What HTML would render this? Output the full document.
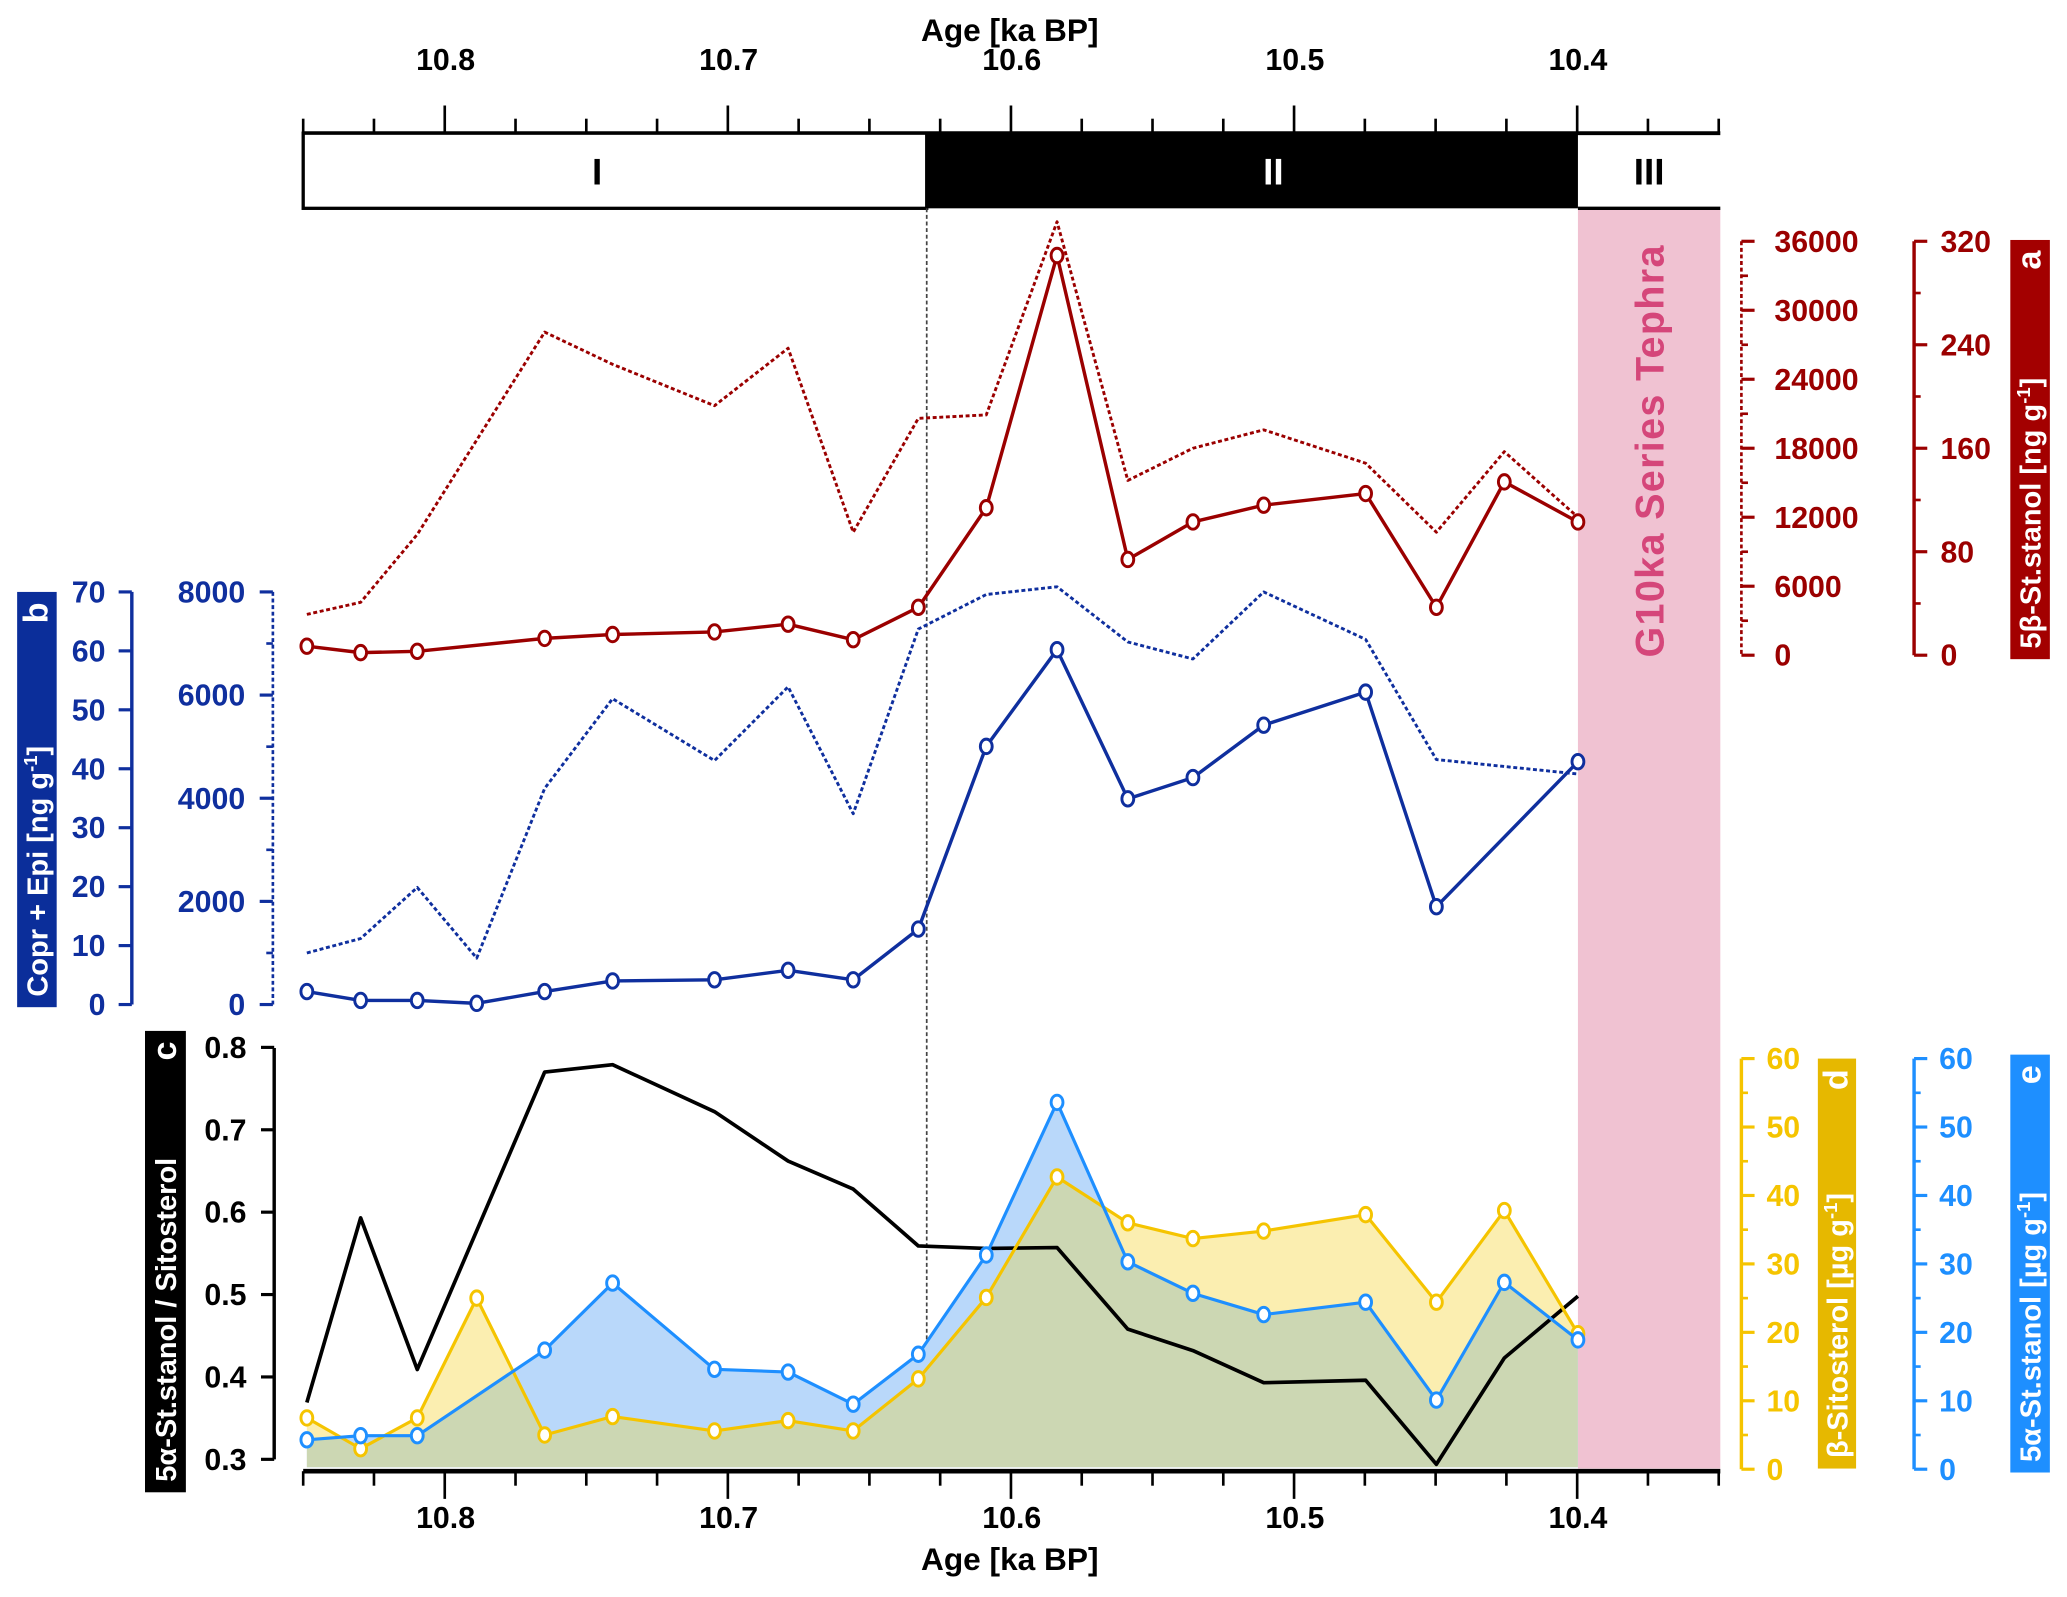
<!DOCTYPE html>
<html><head><meta charset="utf-8"><style>
html,body{margin:0;padding:0;background:#fff}
svg{display:block;font-family:"Liberation Sans",Arial,sans-serif;font-weight:bold}
</style></head><body>
<svg id="c" width="2067" height="1597" viewBox="0 0 1568 1211.4" xmlns="http://www.w3.org/2000/svg"></svg>
<script>
const ages=[10.849,10.830,10.810,10.789,10.765,10.741,10.705,10.679,10.656,10.633,10.609,10.584,10.559,10.536,10.511,10.475,10.450,10.426,10.400];
const betaStanol=[7,2,3,null,13,16,18,24,12,37,114,309,74,103,116,125,37,134,103];
const betaStanolDash=[3550,4600,10500,null,28100,25300,21700,26700,10700,20600,20900,37700,15200,18000,19600,16700,10700,17700,12000];
const coprEpi=[2.2,0.7,0.7,0.2,2.2,4,4.2,5.8,4.2,12.8,43.8,60.2,34.9,38.5,47.4,53,16.6,null,41.2];
const coprEpiDash=[1000,1280,2270,900,4190,5930,4730,6160,3700,7280,7950,8100,7030,6700,8000,7080,4750,null,4470];
const ratio=[0.369,0.593,0.409,null,0.770,0.779,0.722,0.662,0.628,0.559,0.556,0.557,0.458,0.432,0.393,0.396,0.294,0.423,0.498];
const sitosterol=[7.5,3.0,7.5,25.0,5.0,7.7,5.6,7.1,5.6,13.2,25.1,42.7,36.0,33.7,34.8,37.2,24.4,37.8,19.8];
const alphaStanol=[4.3,4.9,4.9,null,17.4,27.2,14.6,14.2,9.5,16.8,31.3,53.6,30.3,25.7,22.6,24.4,10.1,27.3,18.9];
const ageTicks=[10.8,10.7,10.6,10.5,10.4];
const NS="http://www.w3.org/2000/svg";
const svg=document.getElementById('c');
function el(t,a,p){const e=document.createElementNS(NS,t);for(const k in a)e.setAttribute(k,a[k]);(p||svg).appendChild(e);return e;}
function tx(s,x,y,a,p){const e=el('text',Object.assign({x:x,y:y},a),p);e.textContent=s;return e;}
const X=a=>1197+(10.4-a)*2147.5;
const Ya=v=>497-v*314/320, YaD=v=>497-v*314/36000;
const Yb=v=>762-v*313/70, YbD=v=>762-v*313/8000;
const Yc=v=>1107-(v-0.3)*625;
const Yd=v=>1114.5-v*311.5/60;
const RED="#9b0000",BLUE="#0f2f9e",GOLD="#f5c400",LB="#1e8fff";

let e=el('rect',{x:1197,y:158,width:108,height:956,fill:"#f0c2d2"});

e=tx('G10ka Series Tephra',0,0,{transform:'translate(1262,342) rotate(-90)','text-anchor':'middle','font-size':30,'letter-spacing':1,fill:'#d5467a'});


e=el('g',{});
const gt=e;
el('line',{x1:230,y1:101,x2:1305,y2:101,stroke:'#000','stroke-width':3},gt);
for(let i=0;i<=20;i++){const x=230+i*53.69;el('line',{x1:x,y1:101,x2:x,y2:(i%4==2)?80:90,stroke:'#000','stroke-width':2},gt);}
ageTicks.forEach(a=>tx(a.toFixed(1),X(a),53,{'text-anchor':'middle','font-size':23},gt));
tx('Age [ka BP]',766,31,{'text-anchor':'middle','font-size':24},gt);
e=el('rect',{x:230,y:101,width:473,height:57,fill:'#fff',stroke:'#000','stroke-width':2.5});
e=el('rect',{x:703,y:101,width:494,height:57,fill:'#000'});
el('line',{x1:1197,y1:158,x2:1305,y2:158,stroke:'#000','stroke-width':2.5});
tx('I',453,140,{'text-anchor':'middle','font-size':28});
tx('II',966,140,{'text-anchor':'middle','font-size':28,fill:'#fff'});
tx('III',1251,140,{'text-anchor':'middle','font-size':28});
e=el('line',{x1:703,y1:158,x2:703,y2:1112,stroke:'#444','stroke-width':1.3,'stroke-dasharray':'3,2'});


function pts(arr,fy){const p=[];arr.forEach((v,i)=>{if(v!=null)p.push([X(ages[i]),fy(v)]);});return p;}
function area(p){return 'M'+p[0][0]+',1113 '+p.map(q=>'L'+q[0]+','+q[1]).join(' ')+' L'+p[p.length-1][0]+',1113 Z';}
const py=pts(sitosterol,Yd), pb=pts(alphaStanol,Yd);
el('clipPath',{id:'cy'});el('path',{d:area(py)},svg.lastChild);
e=el('path',{d:area(py),fill:'#fbeeb0'});
e=el('path',{d:area(pb),fill:'#b9d8fa'});
e=el('path',{d:area(pb),fill:'#ccd7b3','clip-path':'url(#cy)'});

function line(arr,fy,col,w,dash,mk,name){
  const p=pts(arr,fy);const g=el('g',{});
  
  const a={points:p.map(q=>q.join(',')).join(' '),fill:'none',stroke:col,'stroke-width':w,'stroke-linejoin':'round'};
  if(dash)a['stroke-dasharray']=dash;
  el('polyline',a,g);
  if(mk)p.forEach(q=>{const c=el('ellipse',{cx:q[0],cy:q[1],rx:4.5,ry:5.5,fill:'#fff',stroke:col,'stroke-width':2.2},g);
    });
}
line(betaStanolDash,YaD,RED,2.2,'3,2',false,'beta-stanol-dashed-line');
line(betaStanol,Ya,RED,2.6,null,true,'beta-stanol-line');
line(coprEpiDash,YbD,BLUE,2.2,'3,2',false,'copr-epi-dashed-line');
line(coprEpi,Yb,BLUE,2.6,null,true,'copr-epi-line');
line(ratio,Yc,'#000',2.8,null,false,'ratio-line');
line(sitosterol,Yd,GOLD,2.4,null,true,'sitosterol-line');
line(alphaStanol,Yd,LB,2.4,null,true,'alpha-stanol-line');

function vaxis(x,y0,y1,vals,fy,col,dir,lx,anchor,dash,minor,name,fmt){
  const g=el('g',{});
  const a={x1:x,y1:y0,x2:x,y2:y1,stroke:col,'stroke-width':dash?2:2.6};if(dash)a['stroke-dasharray']='3,2';
  el('line',a,g);
  vals.forEach(v=>{const y=fy(v);el('line',{x1:x,y1:y,x2:x+dir*10,y2:y,stroke:col,'stroke-width':2.4},g);
    tx(fmt?fmt(v):String(v),lx,y+8,{'text-anchor':anchor,'font-size':23,fill:col},g);});
  (minor||[]).forEach(v=>{const y=fy(v);el('line',{x1:x,y1:y,x2:x+dir*5,y2:y,stroke:col,'stroke-width':2},g);});
}
const r=(a,b,s)=>{const o=[];for(let v=a;v<=b+1e-9;v+=s)o.push(+v.toFixed(3));return o;};
vaxis(1321,183,497,r(0,36000,6000),YaD,RED,1,1346,'start',true,r(3000,33000,6000),'beta-stanol-dashed-axis');
vaxis(1452,183,497,r(0,320,80),Ya,RED,1,1472,'start',false,r(40,280,80),'beta-stanol-axis');
vaxis(100,449,762,r(0,70,10),Yb,BLUE,-1,80,'end',false,null,'copr-epi-axis');
vaxis(207,449,762,r(0,8000,2000),YbD,BLUE,-1,186,'end',true,r(1000,7000,2000),'copr-epi-dashed-axis');
vaxis(208,795,1107,r(0.3,0.8,0.1),Yc,'#000',-1,187,'end',false,null,'ratio-axis',v=>v.toFixed(1));
vaxis(1321,803,1114.5,r(0,60,10),Yd,GOLD,1,1340,'start',false,r(5,55,10),'sitosterol-axis');
vaxis(1452,803,1114.5,r(0,60,10),Yd,LB,1,1471,'start',false,r(5,55,10),'alpha-stanol-axis');

const gb=el('g',{});
el('line',{x1:230,y1:1116,x2:1305,y2:1116,stroke:'#000','stroke-width':3.5},gb);
for(let i=0;i<=20;i++){const x=230+i*53.69;el('line',{x1:x,y1:1116,x2:x,y2:(i%4==2)?1137:1127,stroke:'#000','stroke-width':2},gb);}
ageTicks.forEach(a=>tx(a.toFixed(1),X(a),1159,{'text-anchor':'middle','font-size':23},gb));
tx('Age [ka BP]',766,1191,{'text-anchor':'middle','font-size':24},gb);

function box(x,y,w,h,bg,fg,letter,label,name){
  const g=el('g',{});
  el('rect',{x:x,y:y,width:w,height:h,fill:bg},g);
  const cx=x+w/2+8;
  const t=el('text',{transform:`translate(${cx},${y+h-8}) rotate(-90)`,'font-size':22,fill:fg},g);
  t.innerHTML=label;
  tx(letter,0,0,{transform:`translate(${cx},${y+8}) rotate(-90)`,'text-anchor':'end','font-size':26,fill:fg},g);
}
box(1525,182,30,318,'#a30000','#fff','a','5β-St.stanol  [ng g<tspan font-size="14" dy="-8">-1</tspan><tspan dy="8">]</tspan>','label-a');
box(13,449,30,315,'#0b2e9a','#fff','b','Copr + Epi  [ng g<tspan font-size="14" dy="-8">-1</tspan><tspan dy="8">]</tspan>','label-b');
box(110,782,31,350,'#000','#fff','c','5α-St.stanol / Sitosterol','label-c');
box(1379,803,29,311,'#e6b800','#fff','d','β-Sitosterol  [µg g<tspan font-size="14" dy="-8">-1</tspan><tspan dy="8">]</tspan>','label-d');
box(1525,800,30,317,'#1e8fff','#fff','e','5α-St.stanol  [µg g<tspan font-size="14" dy="-8">-1</tspan><tspan dy="8">]</tspan>','label-e');
</script>
</body></html>
